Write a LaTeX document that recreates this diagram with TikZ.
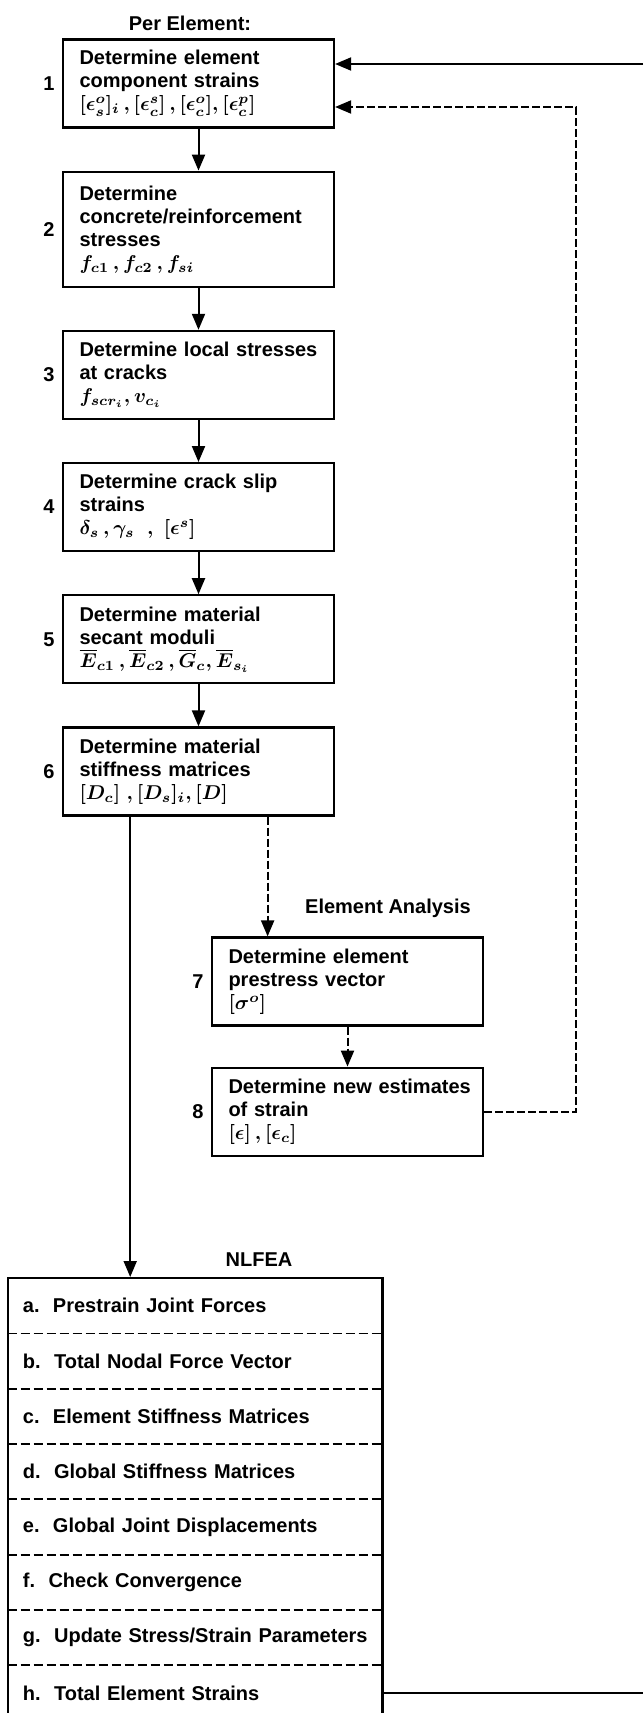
\documentclass[tikz,border=0pt]{standalone}
\usepackage{amsmath}
\usepackage{fontspec}
\setmainfont{Liberation Sans}
\usepackage{tikz}
\usetikzlibrary{arrows.meta, positioning, fit, calc}

\begin{document}
\begin{tikzpicture}[
    x=0.5pt, y=-0.5pt,
    node distance=21pt,
    font=\fontsize{10}{11.5}\selectfont\bfseries\boldmath,
    stepbox/.style={draw, line width=1.1pt, text width=126pt, inner xsep=4.75pt, inner ysep=2pt, align=left, minimum height=#1,
      execute at begin node={\leftskip=3.5pt\hyphenpenalty=10000\exhyphenpenalty=10000\relax}},
    stepbox/.default=44pt,
    stepnum/.style={inner sep=3.5pt},
    heading/.style={inner sep=0pt},
    nlrow/.style={text width=180pt, inner xsep=3.5pt, inner ysep=0pt, minimum height=27.25pt, align=left,
      execute at begin node={\leftskip=4pt\hyphenpenalty=10000\exhyphenpenalty=10000\relax}},
    rowsep/.style={line width=0.9pt, dash pattern=on 4.5pt off 2pt},
    arrow/.style={-{Triangle[length=8pt, width=6.5pt]}, line width=1pt},
    dasharrow/.style={arrow, dash pattern=on 4pt off 1.5pt},
    wire/.style={line width=1pt}
]
\useasboundingbox (0,0) rectangle (643,1713);

% Per Element
\node[heading] (pe) at (190,23) {Per Element:};

% Steps 1-6
\node[stepbox] (b1) at (198.5,83.5) {Determine element\\ component strains\\ $[\epsilon_s^o]_i\,,[\epsilon_c^s]\,,[\epsilon_c^o],[\epsilon_c^p]$};
\node[stepbox=57.5pt, below=of b1] (b2) {Determine\\ concrete/reinforcement\\ stresses\\ $f_{c1}\,,f_{c2}\,,f_{si}$};
\node[stepbox, below=of b2] (b3) {Determine local stresses\\ at cracks\\ $f_{scr_i}, v_{c_i}$};
\node[stepbox, below=of b3] (b4) {Determine crack slip\\ strains\\ $\delta_s\,,\gamma_s\;\;,\;[\epsilon^s]$};
\node[stepbox, below=of b4] (b5) {Determine material\\ secant moduli\\ $\overline{E}_{c1}\,,\overline{E}_{c2}\,,\overline{G}_c,\overline{E}_{s_i}$};
\node[stepbox, below=of b5] (b6) {Determine material\\ stiffness matrices\\ $[D_c]\;,[D_s]_i,[D]$};

% Step numbers
\node[stepnum, left=0pt of b1] (n1) {1};
\node[stepnum, left=0pt of b2] (n2) {2};
\node[stepnum, left=0pt of b3] (n3) {3};
\node[stepnum, left=0pt of b4] (n4) {4};
\node[stepnum, left=0pt of b5] (n5) {5};
\node[stepnum, left=0pt of b6] (n6) {6};

% Element Analysis
\node[heading] (ea) at (388,908) {Element Analysis};
\node[stepbox] (b7) at (347.5,981.5) {Determine element\\ prestress vector\\ $[\sigma^o]$};
\node[stepbox, below=20pt of b7] (b8) {Determine new estimates\\ of strain\\ $[\epsilon]\,,[\epsilon_c]$};
\node[stepnum, left=0pt of b7] (n7) {7};
\node[stepnum, left=0pt of b8] (n8) {8};

% NLFEA
\node[heading] (nh) at (259,1260) {NLFEA};
\node[nlrow] (ra) at (195,1305.75) {a.\ \ Prestrain Joint Forces};
\node[nlrow, below=0pt of ra] (rb) {b.\ \ Total Nodal Force Vector};
\node[nlrow, below=0pt of rb] (rc) {c.\ \ Element Stiffness Matrices};
\node[nlrow, below=0pt of rc] (rd) {d.\ \ Global Stiffness Matrices};
\node[nlrow, below=0pt of rd] (re) {e.\ \ Global Joint Displacements};
\node[nlrow, below=0pt of re] (rf) {f.\ \ Check Convergence};
\node[nlrow, below=0pt of rf] (rg) {g.\ \ Update Stress/Strain Parameters};
\node[nlrow, below=0pt of rg] (rh) {h.\ \ Total Element Strains};
\node[draw, line width=1.1pt, inner sep=0pt, fit=(ra)(rh)] (nl) {};

\draw[rowsep] (ra.south west) -- (ra.south east);
\draw[rowsep] (rb.south west) -- (rb.south east);
\draw[rowsep] (rc.south west) -- (rc.south east);
\draw[rowsep] (rd.south west) -- (rd.south east);
\draw[rowsep] (re.south west) -- (re.south east);
\draw[rowsep] (rf.south west) -- (rf.south east);
\draw[rowsep] (rg.south west) -- (rg.south east);

% Free ends at the right edge
\coordinate (tr) at (643,64);
\coordinate (br) at (643,1687);
\coordinate (lp) at (576,107);
\coordinate (d6) at ($(b6.south west)!.25!(b6.south east)$);
\coordinate (d67) at ($(b6.south west)!.753!(b6.south east)$);

% Arrows
\draw[arrow] (b1) -- (b2);
\draw[arrow] (b2) -- (b3);
\draw[arrow] (b3) -- (b4);
\draw[arrow] (b4) -- (b5);
\draw[arrow] (b5) -- (b6);
\draw[dasharrow] (d67) -- (d67 |- b7.north);
\draw[dasharrow] (b7) -- (b8);
\draw[dasharrow] (b8.east) -| (lp) -- (lp -| b1.east);
\draw[arrow] (d6) -- (d6 |- nl.north);
\draw[arrow] (tr) -- (tr -| b1.east);
\draw[wire] (rh.east) -- (rh.east -| br);

\end{tikzpicture}
\end{document}
